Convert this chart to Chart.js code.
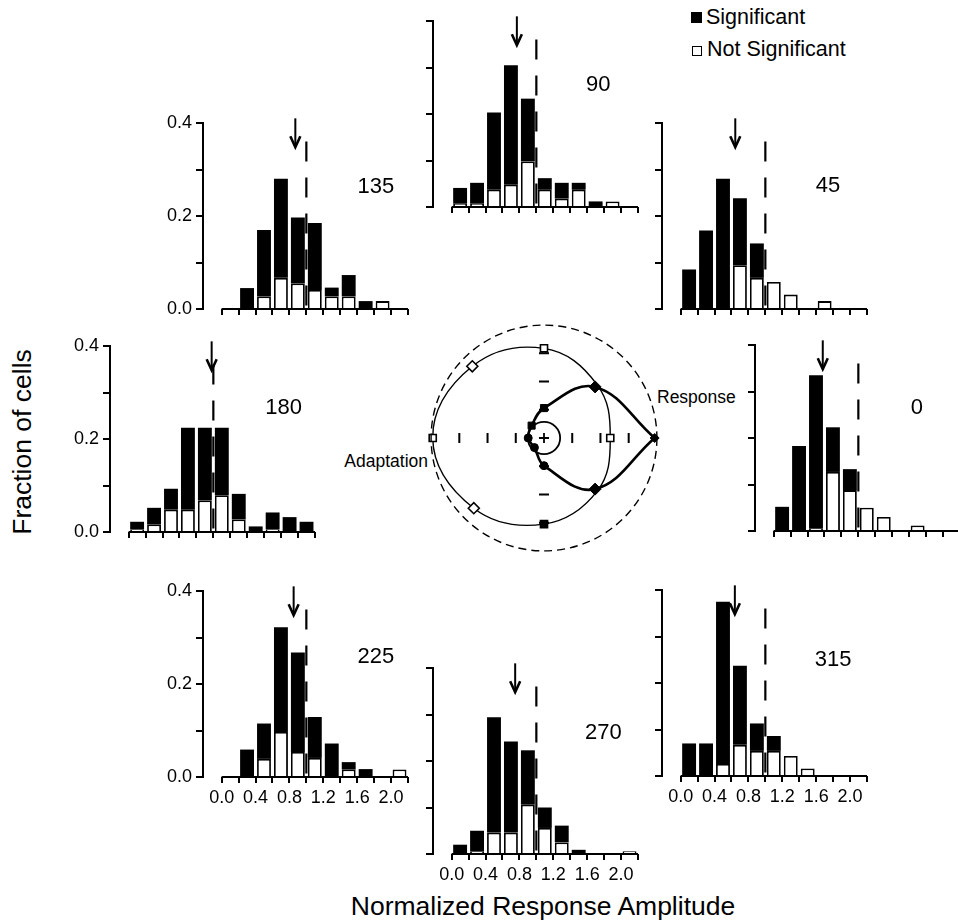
<!DOCTYPE html>
<html>
<head>
<meta charset="utf-8">
<script src="https://cdn.jsdelivr.net/npm/chart.js@4.4.1/dist/chart.umd.min.js"></script>
<style>
  html, body { margin: 0; padding: 0; background: #fff; }
  body { position: relative; width: 958px; height: 923px; overflow: hidden;
         font-family: "Liberation Sans", Arial, sans-serif; color: #000; }
  canvas { position: absolute; }
  .txt { position: absolute; white-space: nowrap; line-height: 1; }
  .sw  { position: absolute; box-sizing: border-box; }
</style>
</head>
<body>

<div class="sw"  style="left:691px;top:12px;width:11px;height:11px;background:#000"></div>
<div class="txt" style="left:706px;top:7px;font-size:21.5px">Significant</div>
<div class="sw"  style="left:692px;top:46px;width:10px;height:10px;border:1.6px solid #000;background:#fff"></div>
<div class="txt" style="left:707px;top:39px;font-size:21.5px">Not Significant</div>

<div class="txt" style="left:543px;top:893px;font-size:26.5px;transform:translateX(-50%)">Normalized Response Amplitude</div>
<div class="txt" style="left:22px;top:442px;font-size:26.5px;transform:translate(-50%,-50%) rotate(-90deg)">Fraction of cells</div>

<div class="txt" style="left:657px;top:389px;font-size:17.5px">Response</div>
<div class="txt" style="left:428px;top:453px;font-size:17.5px;transform:translateX(-100%)">Adaptation</div>

<script>
/* global Chart */

// ── Data ───────────────────────────────────────────────────────────────────

// histogram bins (centres, width 0.2) and axis ticks
const bins   = [0.1, 0.3, 0.5, 0.7, 0.9, 1.1, 1.3, 1.5, 1.7, 1.9, 2.1];
const xTicks = [0, 0.2, 0.4, 0.6, 0.8, 1.0, 1.2, 1.4, 1.6, 1.8, 2.0, 2.2];
const yTicks = [0, 0.1, 0.2, 0.3, 0.4];

// fraction of cells: significant (black, stacked on top) / not significant (white)
const sig0   = [0.052, 0.183, 0.330, 0.096, 0.045, 0, 0, 0, 0, 0, 0];
const ns0    = [0, 0, 0.005, 0.127, 0.088, 0.050, 0.030, 0, 0.012, 0, 0];
const sig45  = [0.085, 0.169, 0.280, 0.144, 0.074, 0, 0, 0, 0, 0, 0];
const ns45   = [0, 0, 0, 0.094, 0.067, 0.058, 0.031, 0, 0.017, 0, 0];
const sig90  = [0.034, 0.045, 0.166, 0.257, 0.135, 0.025, 0.034, 0.015, 0.012, 0, 0];
const ns90   = [0.007, 0.007, 0.037, 0.048, 0.098, 0.037, 0.018, 0.037, 0, 0.012, 0];
const sig135 = [0, 0.045, 0.143, 0.213, 0.142, 0.144, 0.019, 0.046, 0.017, 0, 0];
const ns135  = [0, 0, 0.027, 0.067, 0.055, 0.041, 0.027, 0.027, 0, 0.017, 0];
const sig180 = [0.016, 0.036, 0.045, 0.176, 0.156, 0.145, 0.055, 0.012, 0.036, 0.032, 0.022];
const ns180  = [0.006, 0.016, 0.048, 0.048, 0.068, 0.079, 0.027, 0, 0.006, 0, 0];
const sig225 = [0, 0.059, 0.076, 0.225, 0.214, 0.088, 0.072, 0.016, 0.017, 0, 0];
const ns225  = [0, 0, 0.039, 0.097, 0.054, 0.041, 0, 0.016, 0, 0, 0.016];
const sig270 = [0.020, 0.045, 0.248, 0.196, 0.117, 0.044, 0.036, 0.009, 0, 0, 0];
const ns270  = [0, 0.005, 0.046, 0.046, 0.106, 0.056, 0.025, 0, 0, 0, 0.006];
const sig315 = [0.070, 0.070, 0.349, 0.170, 0.059, 0.032, 0, 0, 0, 0, 0];
const ns315  = [0, 0, 0.026, 0.067, 0.054, 0.054, 0.043, 0.016, 0, 0, 0];

const orientations = [0, 45, 90, 135, 180, 225, 270, 315];
const meanAmp      = [0.58, 0.645, 0.77, 0.87, 0.98, 0.85, 0.75, 0.64];  // arrows
const cutoff       = 1.0;                                               // dashed line

// polar plot (radius, dashed circle = 1)
const responseR   = [0.98, 0.64, 0.265, 0.155, 0.14, 0.12, 0.245, 0.64];
const adaptationR = [0.564, 0.64, 0.763, 0.863, 0.947, 0.845, 0.733, 0.64];
const polarTicks  = [0.25, 0.5, 0.75];
const innerRadius = 0.143;

// ── Layout ─────────────────────────────────────────────────────────────────

const FONT = '"Liberation Sans", Arial, sans-serif';
Chart.defaults.font.family = FONT;
Chart.defaults.color = '#000';

const PLOT_W = 205, PLOT_H = 186, Y_W = 50, X_H = 36, PAD_T = 20, PAD_R = 12;
const X_MIN = -0.22, X_MAX = 2.2;
const ARROW_TOP = 0.41, ARROW_TIP = 0.348, DASH_TOP = 0.36;

const panels = [
  { ori: 0,   sig: sig0,   ns: ns0,   axisX: 755, top: 345, label: [1.69, 0.265] },
  { ori: 45,  sig: sig45,  ns: ns45,  axisX: 662, top: 123, label: [1.74, 0.265] },
  { ori: 90,  sig: sig90,  ns: ns90,  axisX: 433, top: 21,  label: [1.73, 0.263] },
  { ori: 135, sig: sig135, ns: ns135, axisX: 203, top: 123, label: [1.82, 0.262], yLabels: true },
  { ori: 180, sig: sig180, ns: ns180, axisX: 110, top: 346, label: [1.83, 0.267], yLabels: true },
  { ori: 225, sig: sig225, ns: ns225, axisX: 203, top: 591, label: [1.82, 0.258], yLabels: true, xLabels: true },
  { ori: 270, sig: sig270, ns: ns270, axisX: 433, top: 668, label: [1.79, 0.260], xLabels: true },
  { ori: 315, sig: sig315, ns: ns315, axisX: 662, top: 590, label: [1.80, 0.250], xLabels: true },
];

function addCanvas(left, top, w, h) {
  const cv = document.createElement('canvas');
  cv.width = w; cv.height = h;
  cv.style.left = left + 'px';
  cv.style.top = top + 'px';
  document.body.appendChild(cv);
  return cv;
}

// ── Histograms ─────────────────────────────────────────────────────────────

const histDecor = {
  id: 'histDecor',
  afterDatasetsDraw(chart, args, o) {
    const { ctx, scales: { x, y } } = chart;
    ctx.save();
    ctx.strokeStyle = '#000';
    ctx.fillStyle = '#000';

    // x axis line, only over the data range
    ctx.lineWidth = 2;
    ctx.beginPath();
    ctx.moveTo(x.getPixelForValue(xTicks[0]), y.getPixelForValue(0));
    ctx.lineTo(x.getPixelForValue(xTicks[xTicks.length - 1]), y.getPixelForValue(0));
    ctx.stroke();

    // dashed line at cutoff
    const cx = x.getPixelForValue(cutoff);
    ctx.lineWidth = 2.2;
    ctx.setLineDash([20, 16]);
    ctx.beginPath();
    ctx.moveTo(cx, y.getPixelForValue(DASH_TOP));
    ctx.lineTo(cx, y.getPixelForValue(0));
    ctx.stroke();
    ctx.setLineDash([]);

    // arrow at the mean
    const ax = x.getPixelForValue(o.mean);
    const tip = y.getPixelForValue(ARROW_TIP);
    ctx.lineWidth = 2;
    ctx.beginPath();
    ctx.moveTo(ax, y.getPixelForValue(ARROW_TOP));
    ctx.lineTo(ax, tip - 2);
    ctx.stroke();
    ctx.lineWidth = 2.6;
    ctx.beginPath();
    ctx.moveTo(ax - 5, tip - 11);
    ctx.lineTo(ax, tip);
    ctx.lineTo(ax + 5, tip - 11);
    ctx.stroke();

    // orientation label
    ctx.font = '22px ' + FONT;
    ctx.textAlign = 'center';
    ctx.textBaseline = 'middle';
    ctx.fillText(o.text, x.getPixelForValue(o.pos[0]), y.getPixelForValue(o.pos[1]));
    ctx.restore();
  },
};

function makeHistogram(p) {
  const i = orientations.indexOf(p.ori);
  const cv = addCanvas(p.axisX - Y_W, p.top - PAD_T, Y_W + PLOT_W + PAD_R, PAD_T + PLOT_H + X_H);
  const pts = (arr) => arr.map((v, k) => ({ x: bins[k], y: v || null }));

  new Chart(cv, {
    type: 'bar',
    data: {
      datasets: [
        { label: 'Not Significant', data: pts(p.ns), backgroundColor: '#fff',
          borderColor: '#000', borderWidth: 1.8 },
        { label: 'Significant', data: pts(p.sig), backgroundColor: '#000',
          borderColor: '#000', borderWidth: 0 },
      ],
    },
    options: {
      responsive: false,
      animation: false,
      events: [],
      layout: { padding: { top: PAD_T, right: PAD_R, left: 0, bottom: 0 } },
      datasets: { bar: { barPercentage: 0.82, categoryPercentage: 1 } },
      plugins: {
        legend: { display: false },
        tooltip: { enabled: false },
        histDecor: { mean: meanAmp[i], text: String(p.ori), pos: p.label },
      },
      scales: {
        x: {
          type: 'linear', min: X_MIN, max: X_MAX, offset: false, stacked: true,
          afterBuildTicks: (s) => { s.ticks = xTicks.map(v => ({ value: v })); },
          afterFit: (s) => { s.height = X_H; },
          border: { display: false },
          grid: { offset: false, drawOnChartArea: false, tickLength: 6, color: '#000', lineWidth: 2 },
          ticks: {
            autoSkip: false, maxRotation: 0, minRotation: 0, padding: 4,
            font: { size: 18 },
            callback: (v) => (p.xLabels && Math.round(v * 10) % 4 === 0 ? v.toFixed(1) : ''),
          },
        },
        y: {
          min: 0, max: 0.4, stacked: true,
          afterBuildTicks: (s) => { s.ticks = yTicks.map(v => ({ value: v })); },
          afterFit: (s) => { s.width = Y_W; },
          border: { display: true, color: '#000', width: 2 },
          grid: { drawOnChartArea: false, tickLength: 7, color: '#000', lineWidth: 2 },
          ticks: {
            padding: 4,
            font: { size: 18 },
            callback: (v) => (p.yLabels && Math.round(v * 10) % 2 === 0 ? v.toFixed(1) : ''),
          },
        },
      },
    },
    plugins: [histDecor],
  });
}

panels.forEach(makeHistogram);

// ── Polar plot ─────────────────────────────────────────────────────────────

const P_SIZE = 282, P_MAX = 1.2, P_LEFT = 403, P_TOP = 297;

// radial scale goes clockwise from the top
const radarOrder = [90, 45, 0, 315, 270, 225, 180, 135];
const adaptStyle = { 0: 'rect', 45: false, 90: 'rect', 135: 'rectRot', 180: 'rect', 225: 'rectRot', 270: 'rect', 315: false };

new Chart(addCanvas(P_LEFT, P_TOP, P_SIZE, P_SIZE), {
  type: 'radar',
  data: {
    labels: radarOrder.map(String),
    datasets: [{
      data: radarOrder.map(a => adaptationR[orientations.indexOf(a)]),
      borderColor: '#000',
      borderWidth: 1.4,
      tension: 0.4,
      fill: false,
      pointStyle: radarOrder.map(a => adaptStyle[a]),
      pointRadius: radarOrder.map(a => (a % 90 === 0 ? 5 : 5.5)),
      pointBackgroundColor: radarOrder.map(a => (a === 270 ? '#000' : '#fff')),
      pointBorderColor: '#000',
      pointBorderWidth: 1.6,
    }],
  },
  options: {
    responsive: false,
    animation: false,
    events: [],
    layout: { padding: 0 },
    plugins: { legend: { display: false }, tooltip: { enabled: false } },
    scales: {
      r: {
        min: 0, max: P_MAX, startAngle: 0,
        grid: { display: false },
        angleLines: { display: false },
        pointLabels: { display: false },
        ticks: { display: false },
      },
    },
  },
});

const respStyle  = ['rectRot', 'rectRot', 'rect', 'rect', 'circle', 'circle', 'circle', 'rectRot', false];
const respRadius = [4.5, 6, 5, 5, 4, 4, 4, 6, 0];
const respLoop = orientations.concat(orientations[0]).map((a, k) => {
  const r = responseR[k % orientations.length];
  const t = a * Math.PI / 180;
  return { x: r * Math.cos(t), y: r * Math.sin(t) };
});

const polarDecor = {
  id: 'polarDecor',
  beforeDatasetsDraw(chart) {
    const { ctx, scales: { x, y } } = chart;
    const cx = x.getPixelForValue(0), cy = y.getPixelForValue(0);
    const unit = x.getPixelForValue(1) - cx;
    ctx.save();
    ctx.strokeStyle = '#000';

    ctx.lineWidth = 1.4;
    ctx.setLineDash([8, 5]);
    ctx.beginPath();
    ctx.arc(cx, cy, unit, 0, Math.PI * 2);
    ctx.stroke();
    ctx.setLineDash([]);

    ctx.lineWidth = 1.8;
    ctx.beginPath();
    ctx.arc(cx, cy, innerRadius * unit, 0, Math.PI * 2);
    ctx.stroke();

    // tick dashes along both axes
    ctx.lineWidth = 2;
    polarTicks.forEach(v => {
      [1, -1].forEach(s => {
        const px = x.getPixelForValue(s * v), py = y.getPixelForValue(s * v);
        ctx.beginPath();
        ctx.moveTo(px, cy - 5); ctx.lineTo(px, cy + 5);
        ctx.moveTo(cx - 5, py); ctx.lineTo(cx + 5, py);
        ctx.stroke();
      });
    });

    // centre cross
    ctx.lineWidth = 1.8;
    ctx.beginPath();
    ctx.moveTo(cx - 5, cy); ctx.lineTo(cx + 5, cy);
    ctx.moveTo(cx, cy - 5); ctx.lineTo(cx, cy + 5);
    ctx.stroke();
    ctx.restore();
  },
};

new Chart(addCanvas(P_LEFT, P_TOP, P_SIZE, P_SIZE), {
  type: 'scatter',
  data: {
    datasets: [{
      data: respLoop,
      showLine: true,
      tension: 0.4,
      borderColor: '#000',
      borderWidth: 2.6,
      pointStyle: respStyle,
      pointRadius: respRadius,
      pointBackgroundColor: '#000',
      pointBorderColor: '#000',
      pointBorderWidth: 1,
      clip: false,
    }],
  },
  options: {
    responsive: false,
    animation: false,
    events: [],
    layout: { padding: 0 },
    plugins: { legend: { display: false }, tooltip: { enabled: false } },
    scales: {
      x: { type: 'linear', min: -P_MAX, max: P_MAX, display: false },
      y: { type: 'linear', min: -P_MAX, max: P_MAX, display: false },
    },
  },
  plugins: [polarDecor],
});
</script>
</body>
</html>
